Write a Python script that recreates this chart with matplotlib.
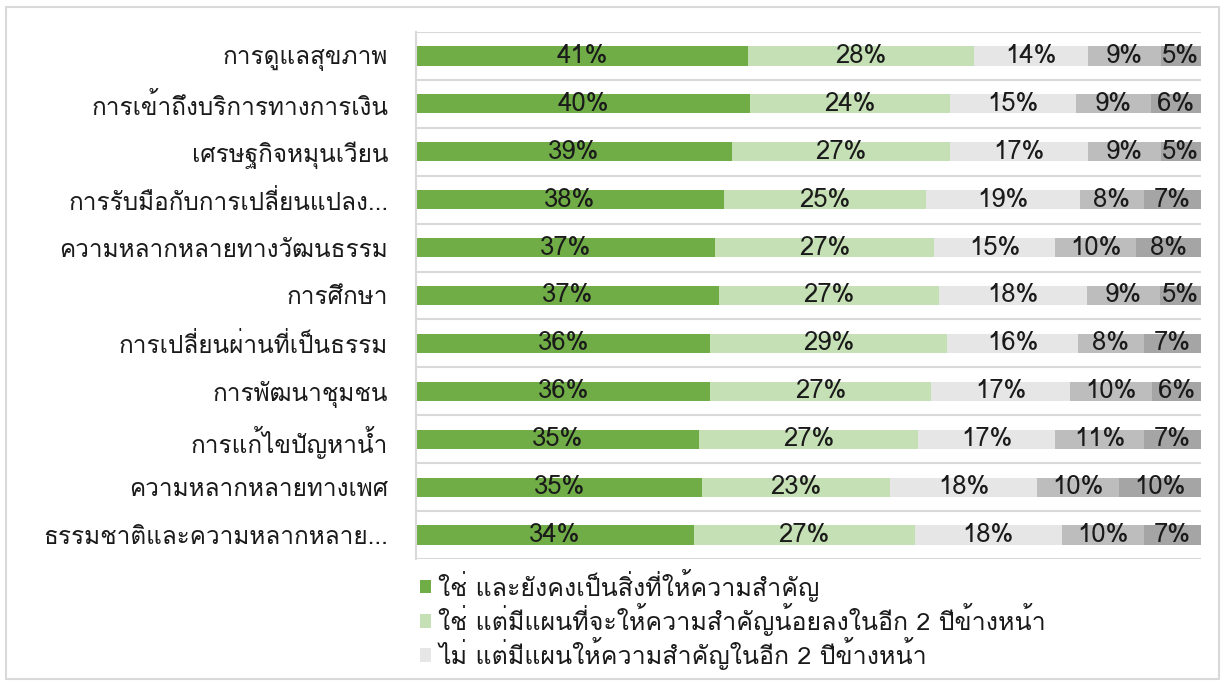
import numpy as np
import matplotlib
matplotlib.use('Agg')
import matplotlib.pyplot as plt
from matplotlib import font_manager, ft2font
from matplotlib.patches import Rectangle, Patch

# find a font that has Thai glyphs
thai_font = None
for fe in font_manager.fontManager.ttflist:
	try:
		cmap = ft2font.FT2Font(fe.fname).get_charmap()
	except Exception:
		continue
	if 0x0E01 in cmap and 0x0E32 in cmap:
		thai_font = fe.name
		break
families = [thai_font, 'DejaVu Sans'] if thai_font else ['DejaVu Sans']
plt.rcParams['font.family'] = families

categories = ['การดูแลสุขภาพ', 'การเข้าถึงบริการทางการเงิน', 'เศรษฐกิจหมุนเวียน',
	'การรับมือกับการเปลี่ยนแปลง...', 'ความหลากหลายทางวัฒนธรรม', 'การศึกษา',
	'การเปลี่ยนผ่านที่เป็นธรรม', 'การพัฒนาชุมชน', 'การแก้ไขปัญหาน้ำ',
	'ความหลากหลายทางเพศ', 'ธรรมชาติและความหลากหลาย...']
yes_keep = [41, 40, 39, 38, 37, 37, 36, 36, 35, 35, 34]
yes_less = [28, 24, 27, 25, 27, 27, 29, 27, 27, 23, 27]
no_plan = [14, 15, 17, 19, 15, 18, 16, 17, 17, 18, 18]
other_a = [9, 9, 9, 8, 10, 9, 8, 10, 11, 10, 10]
other_b = [5, 6, 5, 7, 8, 5, 7, 6, 7, 10, 7]
legend_labels = ['ใช่ และยังคงเป็นสิ่งที่ให้ความสำคัญ',
	'ใช่ แต่มีแผนที่จะให้ความสำคัญน้อยลงในอีก 2 ปีข้างหน้า',
	'ไม่ แต่มีแผนให้ความสำคัญในอีก 2 ปีข้างหน้า']

colors = ['#70AD47', '#C5E0B4', '#E6E6E6', '#BDBDBD', '#A5A5A5']

series = np.array([yes_keep, yes_less, no_plan, other_a, other_b], dtype=float)
frac = series / series.sum(axis=0)
left = np.vstack([np.zeros(len(categories)), np.cumsum(frac, axis=0)[:-1]])
ypos = np.arange(len(categories))

fig = plt.figure(figsize=(12.26, 6.86), dpi=100)
ax = fig.add_axes([0.3393, 0.1851, 0.6403, 0.7683])

# outer chart border
fig.patches.append(Rectangle((6/1226., 7/686.), 1213/1226., 672/686., transform=fig.transFigure,
	fill=False, edgecolor='#D9D9D9', linewidth=1.5))

for i in range(len(series)):
	ax.barh(ypos, frac[i], left=left[i], height=0.4, color=colors[i], zorder=2)
	for j in range(len(categories)):
		ax.text(left[i][j] + frac[i][j]/2., ypos[j], '%d%%' % series[i][j],
			ha='center', va='center', fontsize=18.5, color='#1a1a1a', zorder=3)

ax.hlines(np.arange(-0.5, len(categories), 1.0), 0, 1, color='#D9D9D9', linewidth=1.5, zorder=1)

ax.set_xlim(0, 1)
ax.set_ylim(len(categories) - 0.5, -0.5)
ax.set_yticks(ypos)
ax.set_yticklabels(categories, fontsize=17.5, color='#1a1a1a')
ax.tick_params(axis='y', length=0, pad=20)
ax.set_xticks([])
for s in ['top', 'right', 'bottom']:
	ax.spines[s].set_visible(False)
ax.spines['left'].set_color('#D9D9D9')
ax.spines['left'].set_linewidth(1.5)

handles = [Patch(facecolor=colors[k], edgecolor='none') for k in range(3)]
leg = fig.legend(handles, legend_labels, loc='upper left', bbox_to_anchor=(402/1226., 1 - 551/686.),
	frameon=False, fontsize=18, handlelength=0.45, handleheight=0.45, handletextpad=0.3,
	labelspacing=0.05, borderpad=0.2)
for t in leg.get_texts():
	t.set_color('#1a1a1a')

fig.savefig('out.png', dpi=100)
